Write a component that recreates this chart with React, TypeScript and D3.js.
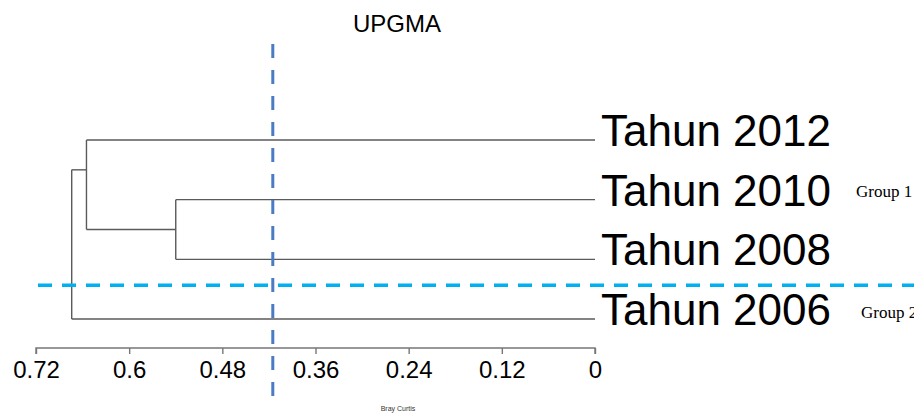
import React, { useEffect, useRef } from 'react';
import * as d3 from 'd3';

// leaves, top to bottom
const leaves = ['Tahun 2012', 'Tahun 2010', 'Tahun 2008', 'Tahun 2006'];
// merges (UPGMA, Bray Curtis distance)
const mergeIds = ['C', 'A', 'R'];
const mergeChildren = [['Tahun 2010', 'Tahun 2008'], ['Tahun 2012', 'C'], ['A', 'Tahun 2006']];
const mergeHeights = [0.54, 0.655, 0.674];
const axisTicks = [0.72, 0.6, 0.48, 0.36, 0.24, 0.12, 0];
const groupLabels = ['Group 1', 'Group 2'];
const cutHeight = 0.415;

const W = 914;
const H = 414;
const SANS = '"Liberation Sans", Arial, sans-serif';
const SERIF = '"Liberation Serif", "Times New Roman", serif';

const App: React.FC = () => {
    const ref = useRef<SVGSVGElement>(null);

    useEffect(() => {
        if (!ref.current) return;
        const svg = d3.select(ref.current);
        svg.selectAll('*').remove();

        const x = d3.scaleLinear().domain([0.72, 0]).range([36, 595]);
        const y = d3.scalePoint<string>().domain(leaves).range([140, 319]);

        // resolve node heights and vertical positions
        const height = new Map<string, number>();
        const pos = new Map<string, number>();
        const topLeaf = new Map<string, string>();
        leaves.forEach(l => { height.set(l, 0); pos.set(l, y(l) as number); topLeaf.set(l, l); });
        mergeIds.forEach((id, i) => {
            const [a, b] = mergeChildren[i];
            height.set(id, mergeHeights[i]);
            topLeaf.set(id, topLeaf.get(a)!);
            pos.set(id, (pos.get(a)! + (y(topLeaf.get(b)!) as number)) / 2);
        });

        const g = svg.append('g')
            .attr('stroke', '#5a5a5a')
            .attr('stroke-width', 1.4)
            .attr('fill', 'none');

        mergeIds.forEach((id, i) => {
            const nx = x(height.get(id)!);
            const kids = mergeChildren[i];
            const ys = kids.map(k => pos.get(k)!);
            g.append('line')
                .attr('x1', nx).attr('x2', nx)
                .attr('y1', d3.min(ys)!).attr('y2', d3.max(ys)!);
            kids.forEach(k => {
                g.append('line')
                    .attr('x1', nx).attr('x2', x(height.get(k)!))
                    .attr('y1', pos.get(k)!).attr('y2', pos.get(k)!);
            });
        });

        // leaf labels
        svg.append('g')
            .selectAll('text')
            .data(leaves)
            .join('text')
            .attr('x', x(0) + 6)
            .attr('y', d => (y(d) as number) + 6)
            .attr('font-family', SANS)
            .attr('font-size', 44)
            .attr('fill', '#000')
            .text(d => d);

        // axis
        const axis = svg.append('g')
            .attr('transform', 'translate(0,348)')
            .call(d3.axisBottom(x).tickValues(axisTicks).tickFormat(d => String(d)).tickSize(6).tickSizeOuter(0).tickPadding(7));
        axis.select('.domain').attr('stroke', '#777').attr('stroke-width', 1.4)
            .attr('d', `M${x(0.72)},6V0H${x(0)}V6`);
        axis.selectAll('.tick line').attr('stroke', '#777').attr('stroke-width', 1.4);
        axis.selectAll('.tick text')
            .attr('font-family', SANS)
            .attr('font-size', 24)
            .attr('fill', '#000');

        // title & axis label
        svg.append('text')
            .attr('x', 397).attr('y', 32)
            .attr('text-anchor', 'middle')
            .attr('font-family', SANS)
            .attr('font-size', 24)
            .text('UPGMA');
        svg.append('text')
            .attr('x', 398).attr('y', 411)
            .attr('text-anchor', 'middle')
            .attr('font-family', SANS)
            .attr('font-size', 7)
            .attr('fill', '#333')
            .text('Bray Curtis');

        // cut line (vertical) and group separator (horizontal)
        svg.append('line')
            .attr('x1', x(cutHeight)).attr('x2', x(cutHeight))
            .attr('y1', 44).attr('y2', 400)
            .attr('stroke', '#4a7cc4')
            .attr('stroke-width', 3)
            .attr('stroke-dasharray', '14 12');
        const sepY = ((y('Tahun 2008') as number) + (y('Tahun 2006') as number)) / 2 - 4;
        svg.append('line')
            .attr('x1', 38).attr('x2', W)
            .attr('y1', sepY).attr('y2', sepY)
            .attr('stroke', '#00b0f0')
            .attr('stroke-width', 3.5)
            .attr('stroke-dasharray', '14 10');

        // group labels
        svg.append('text')
            .attr('x', 856).attr('y', (y('Tahun 2010') as number) - 3)
            .attr('font-family', SERIF).attr('font-size', 17)
            .text(groupLabels[0]);
        svg.append('text')
            .attr('x', 861).attr('y', (y('Tahun 2006') as number) - 1)
            .attr('font-family', SERIF).attr('font-size', 17)
            .text(groupLabels[1]);
    }, []);

    return (
        <svg
            ref={ref}
            width={W}
            height={H}
            style={{ position: 'absolute', left: 0, top: 0, background: '#fff' }}
        />
    );
};

export default App;
